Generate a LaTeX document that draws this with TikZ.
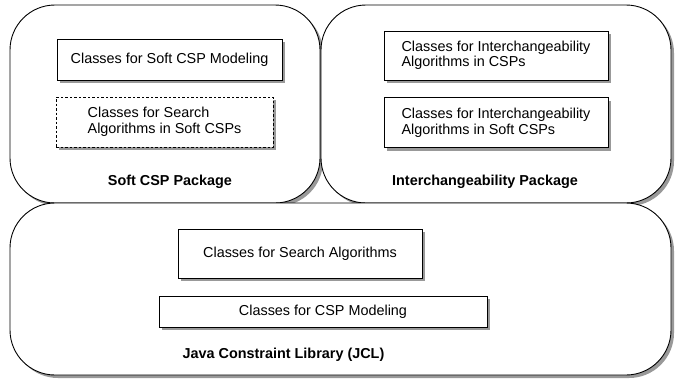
\documentclass[tikz,border=0pt]{standalone}
\usepackage{fontspec}
\setmainfont{Liberation Sans}
\usetikzlibrary{positioning}
\usetikzlibrary{shadows}
\tikzset{
    % Grey shadow cast down and to the right
    box shadow/.style={drop shadow={shadow xshift=3pt, shadow yshift=-3pt,
        fill=gray!80, opacity=1}},
%
    % The big rounded outline of a package
    package/.style={
        draw, line width=0.9pt, rectangle, rounded corners=45pt,
        fill=white, box shadow, inner sep=0pt},
%
    % A box holding a group of classes
    class box/.style={
        draw, line width=0.9pt, rectangle, fill=white, box shadow,
        inner sep=0pt, align=left},
%
    % The name written at the foot of a package
    package name/.style={font=\fontsize{14.4}{15.5}\selectfont\bfseries}}

\begin{document}
\begin{tikzpicture}[x=1pt, y=-1pt, font=\fontsize{14.4}{15.5}\selectfont]

\useasboundingbox (0,0) rectangle (675,378);

\node (softpkg) [package, minimum width=310pt, minimum height=198pt]
    at (165,104) {};
\node (interpkg) [package, minimum width=350pt, minimum height=198pt]
    at (496,104) {};
\node (jcl) [package, minimum width=661pt, minimum height=172pt]
    at (340.5,289) {};

% Soft CSP package
\node (softmodel) [class box, minimum width=225pt, minimum height=41pt]
    at (169.5,59.5) {Classes for Soft CSP Modeling};
\node (softsearch) [class box, dash pattern=on 2.5pt off 2pt,
    minimum width=217pt, minimum height=50pt]
    at (164.5,122) {Classes for Search\\Algorithms in Soft CSPs};
\node (softname) [package name] at (170,182) {Soft CSP Package};

% Interchangeability package
\node (interalg) [class box, minimum width=224pt, minimum height=49pt]
    at (496,55.5) {Classes for Interchangeability\\Algorithms in CSPs};
\node (intersoft) [class box, minimum width=224pt, minimum height=50pt,
    below=17pt of interalg] {Classes for Interchangeability\\Algorithms in Soft CSPs};
\node (intername) [package name] at (485,182) {Interchangeability Package};

% Java Constraint Library
\node (searchalg) [class box, minimum width=244pt, minimum height=49pt]
    at (300,253.5) {Classes for Search Algorithms};
\node (cspmodel) [class box, minimum width=328pt, minimum height=31pt]
    at (323,311.5) {Classes for CSP Modeling};
\node (jclname) [package name] at (283.5,355) {Java Constraint Library (JCL)};

\end{tikzpicture}
\end{document}
